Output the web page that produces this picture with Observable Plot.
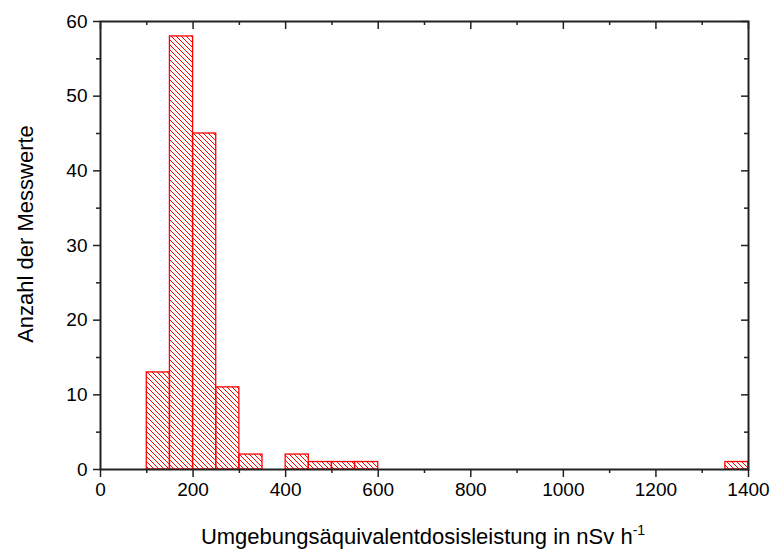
<!DOCTYPE html>
<html>
<head>
<meta charset="utf-8">
<script src="https://cdn.jsdelivr.net/npm/d3@7"></script>
<script src="https://cdn.jsdelivr.net/npm/@observablehq/plot@0.6"></script>
<style>
  html, body { margin: 0; padding: 0; background: #fff; }
  svg { font-family: "Liberation Sans", Arial, sans-serif; }
</style>
</head>
<body>
<div id="chart"></div>
<script>
// Histogram bins (lower edge, upper edge) in nSv/h and counts
const binStart = [100, 150, 200, 250, 300, 400, 450, 500, 550, 1350];
const binEnd   = [150, 200, 250, 300, 350, 450, 500, 550, 600, 1400];
const counts   = [13, 58, 45, 11, 2, 2, 1, 1, 1, 1];
const xTicks = [0, 200, 400, 600, 800, 1000, 1200, 1400];
const xMinor = [100, 300, 500, 700, 900, 1100, 1300];
const yTicks = [0, 10, 20, 30, 40, 50, 60];
const yMinor = [5, 15, 25, 35, 45, 55];

const bins = binStart.map((s, i) => ({x1: s, x2: binEnd[i], y: counts[i]}));
const axisColor = "#222";
const W = 771, H = 550, mL = 100, mR = 23, mT = 21, mB = 81;
const fw = W - mL - mR, fh = H - mT - mB;
const fmt = d3.format("d");

const plot = Plot.plot({
  width: W,
  height: H,
  marginLeft: mL,
  marginRight: mR,
  marginTop: mT,
  marginBottom: mB,
  x: {domain: [0, 1400]},
  y: {domain: [0, 60]},
  style: {fontFamily: "Liberation Sans, Arial, sans-serif", fontSize: "19px", color: "#000"},
  marks: [
    Plot.rectY(bins, {x1: "x1", x2: "x2", y: "y", fill: "none", stroke: "red", strokeWidth: 1.3, className: "hbar"}),
    // bottom axis
    Plot.axisX({anchor: "bottom", ticks: xTicks, tickSize: 8, tickPadding: 5, tickFormat: fmt, label: null, stroke: axisColor, strokeWidth: 1.5, fontSize: 19}),
    Plot.axisX({anchor: "bottom", ticks: xMinor, tickSize: 4, tickFormat: () => "", label: null, stroke: axisColor, strokeWidth: 1.5}),
    // top axis (inward ticks)
    Plot.tickX(xTicks, {x: d => d, insetBottom: fh - 8, stroke: axisColor, strokeWidth: 1.5}),
    Plot.tickX(xMinor, {x: d => d, insetBottom: fh - 4, stroke: axisColor, strokeWidth: 1.5}),
    // left axis
    Plot.axisY({anchor: "left", ticks: yTicks, tickSize: 7, tickPadding: 6, tickFormat: fmt, label: null, stroke: axisColor, strokeWidth: 1.5, fontSize: 19}),
    Plot.axisY({anchor: "left", ticks: yMinor, tickSize: 4, tickFormat: () => "", label: null, stroke: axisColor, strokeWidth: 1.5}),
    // right axis (inward ticks)
    Plot.tickY(yTicks, {y: d => d, insetLeft: fw - 7, stroke: axisColor, strokeWidth: 1.5}),
    Plot.tickY(yMinor, {y: d => d, insetLeft: fw - 4, stroke: axisColor, strokeWidth: 1.5}),
    Plot.frame({stroke: axisColor, strokeWidth: 2})
  ]
});

// hatch pattern
const svg = d3.select(plot);
const defs = svg.insert("defs", ":first-child");
defs.append("pattern")
  .attr("id", "hatch")
  .attr("patternUnits", "userSpaceOnUse")
  .attr("width", 5).attr("height", 5)
  .append("path")
  .attr("d", "M0,0L5,5M-1,4L1,6M4,-1L6,1")
  .attr("stroke", "red").attr("stroke-width", 1).attr("fill", "none");
svg.selectAll(".hbar rect").attr("fill", "url(#hatch)");

// axis titles
const xt = svg.append("text")
  .attr("x", 423).attr("y", 544)
  .attr("text-anchor", "middle")
  .attr("font-size", 22)
  .attr("fill", "#000");
xt.append("tspan").text("Umgebungsäquivalentdosisleistung in nSv h");
xt.append("tspan").attr("dy", -9).attr("font-size", 14).text("-1");

svg.append("text")
  .attr("transform", "translate(33,234) rotate(-90)")
  .attr("text-anchor", "middle")
  .attr("font-size", 22)
  .attr("fill", "#000")
  .text("Anzahl der Messwerte");

document.getElementById("chart").appendChild(plot);
</script>
</body>
</html>
